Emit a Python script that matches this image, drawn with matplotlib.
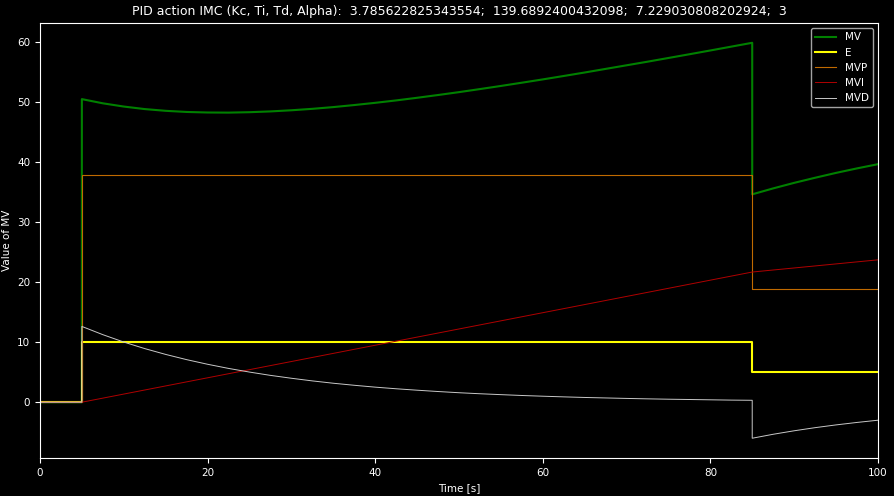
import matplotlib.pyplot as plt

Kc, Ti, Td, alpha = 3.785622825343554, 139.6892400432098, 7.229030808202924, 3

# step signals
t_step = [0, 5, 5, 85, 85, 100]
E = [0, 0, 10, 10, 5, 5]
MVP = [0, 0, 37.86, 37.86, 18.93, 18.93]

# integral part (straight segments)
t_mvi = [0, 5, 85, 100]
MVI = [0, 0, 21.68, 23.71]

# curves sampled every 2.5 s
t_curve = ([0, 5] + [5 + 2.5 * k for k in range(33)]
           + [85 + 2.5 * k for k in range(7)])
MVD = [0, 0,
       12.62, 11.25, 10.02, 8.93, 7.96, 7.09, 6.32, 5.63, 5.02, 4.47,
       3.99, 3.55, 3.16, 2.82, 2.51, 2.24, 2.00, 1.78, 1.58, 1.41,
       1.26, 1.12, 1.00, 0.89, 0.79, 0.71, 0.63, 0.56, 0.50, 0.45,
       0.40, 0.35, 0.32,
       -6.00, -5.34, -4.76, -4.24, -3.78, -3.37, -3.00]
MV = [0, 0,
      50.48, 49.78, 49.24, 48.82, 48.53, 48.34, 48.25, 48.23, 48.30, 48.43,
      48.62, 48.86, 49.15, 49.49, 49.86, 50.26, 50.70, 51.16, 51.64, 52.15,
      52.67, 53.21, 53.76, 54.33, 54.91, 55.51, 56.11, 56.71, 57.33, 57.95,
      58.58, 59.22, 59.86,
      34.62, 35.61, 36.53, 37.38, 38.19, 38.94, 39.64]

plt.style.use('dark_background')
plt.rcParams['font.size'] = 7.5

fig = plt.figure(figsize=(8.94, 4.96), dpi=100)
ax = fig.add_axes([0.0447, 0.0766, 0.9373, 0.877])

ax.plot(t_curve, MV, color='green', lw=1.5, label='MV')
ax.plot(t_step, E, color='yellow', lw=1.5, label='E')
ax.plot(t_step, MVP, color='#c06a00', lw=0.8, label='MVP')
ax.plot(t_mvi, MVI, color='#b00000', lw=0.7, label='MVI')
ax.plot(t_curve, MVD, color='#c8c8c8', lw=0.7, label='MVD')

ax.set_xlim(0, 100)
ax.set_xlabel('Time [s]')
ax.set_ylabel('Value of MV')
ax.set_title('PID action IMC (Kc, Ti, Td, Alpha):  ' + str(Kc) + ';  ' + str(Ti)
             + ';  ' + str(Td) + ';  ' + str(alpha), fontsize=9)
ax.legend(loc='upper right')

plt.savefig('out.png', dpi=100)
